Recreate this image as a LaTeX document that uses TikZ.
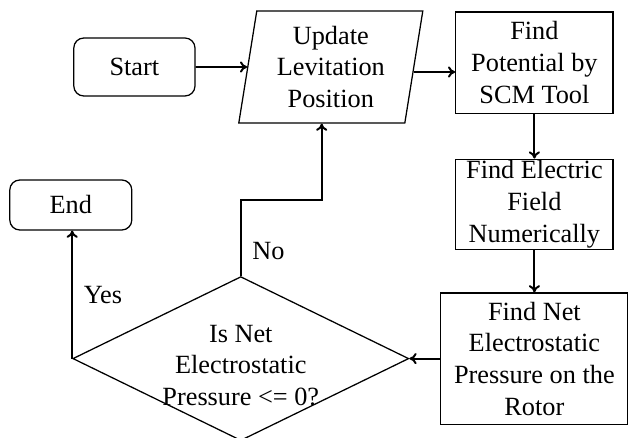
\documentclass[tikz,border=0pt]{standalone}
\usepackage{fontspec}
\setmainfont{Liberation Serif}
\usetikzlibrary{arrows,arrows.meta,calc,positioning,shapes.geometric}

\begin{document}
\begin{tikzpicture}[align=center,font=\fontsize{18.7}{22.5}\selectfont]
\tikzstyle{terminal}=[rectangle,rounded corners=2.5mm,draw=black,line width=0.9pt,inner sep=1pt]
\tikzstyle{process}=[rectangle,draw=black,line width=0.9pt,inner sep=1pt]
\tikzstyle{io}=[trapezium,trapezium left angle=78,trapezium right angle=102,trapezium stretches body,draw=black,line width=0.9pt,inner sep=1pt]
\tikzstyle{decision}=[diamond,draw=black,line width=0.9pt,inner sep=0pt]
\tikzstyle{flow}=[-{To[length=1.8mm,width=2.8mm]},line width=1.4pt]

\useasboundingbox (-3.36,1.675) rectangle (12.34,-9.275);

\node[terminal, minimum width=3.03cm, minimum height=1.45cm] (start) {Start};
\node[io, minimum width=4.6cm, minimum height=2.8cm, node distance=4.91cm, right of = start] (update) {Update\\Levitation\\Position};
\node[process, minimum width=3.93cm, minimum height=2.53cm, node distance=5.09cm, right of = update, yshift=1.1mm] (potential) {Find\\Potential by\\SCM Tool};
\node[process, minimum width=3.93cm, minimum height=2.2cm, node distance=3.54cm, below of = potential] (field) {Find Electric\\Field\\Numerically};
\node[process, minimum width=4.68cm, minimum height=3.28cm, node distance=3.86cm, below of = field] (pressure) {Find Net\\Electrostatic\\Pressure on the\\Rotor};
\node[decision, minimum width=8.4cm, minimum height=4.1cm, node distance=7.34cm, left of = pressure] (test) {};
\node[yshift=-1.7mm] (test_txt) at (test) {Is Net\\Electrostatic\\Pressure <= 0?};
\node[terminal, minimum width=3.05cm, minimum height=1.25cm, node distance=3.45cm, below of = start, xshift=-1.59cm] (end) {End};

\coordinate (update_in) at ($(update.bottom left corner)!0.5!(update.bottom right corner)$);

\draw[flow] (start) -- (update);
\draw[flow] ([yshift=-1.25mm]update.east) -- ([yshift=-1.25mm]update.east -| potential.west);
\draw[flow] (potential) -- (field);
\draw[flow] (field.south) -- (field.south |- pressure.north);
\draw[flow] (pressure.west) -- (test.east);
\draw[flow] (test.west) -- node[right=1.5mm] {Yes} (test.west |- end.south);
\draw[flow] (test.north) -- node[pos=0.33, right=1.5mm] {No} ++(0,1.9) -| (update_in);
\end{tikzpicture}
\end{document}
